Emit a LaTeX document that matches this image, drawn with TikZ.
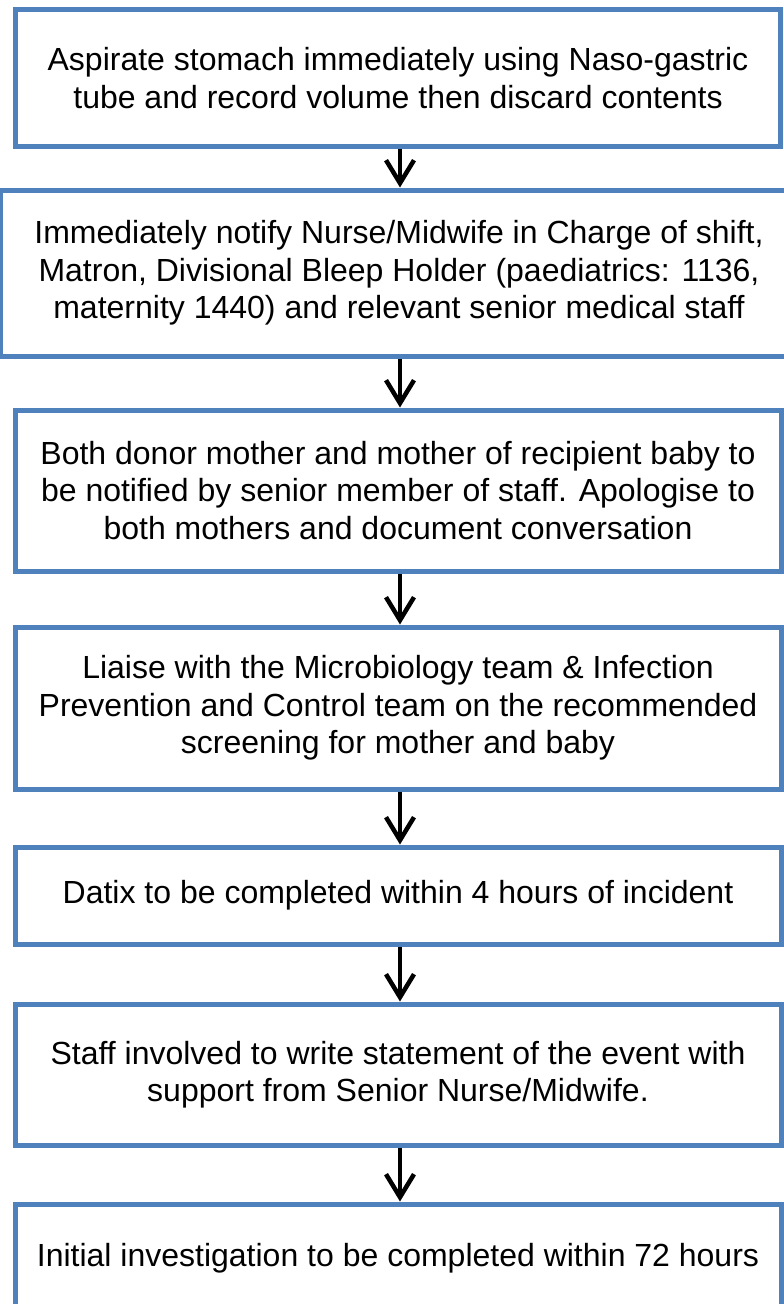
\documentclass[tikz,border=0pt]{standalone}
\usepackage{fontspec}
\setmainfont{Liberation Sans}
\usetikzlibrary{arrows.meta}
\definecolor{boxblue}{HTML}{4F81BD}

\begin{document}
\begin{tikzpicture}[x=1pt, y=-1pt,
    box/.style={draw=boxblue, line width=5pt, rectangle, align=center, inner sep=0pt, font=\fontsize{32}{37.5}\selectfont},
    arr/.style={draw=black, line width=4.5pt, -{Straight Barb[length=23pt, width=28pt]}}]
        
        \useasboundingbox (0,0) rectangle (784,1304);
        
        \node[box, minimum width=765, minimum height=137] (s1) at (398,78) {Aspirate stomach immediately using Naso-gastric\\tube and record volume then discard contents};
        \node[box, minimum width=798, minimum height=166] (s2) at (399,273) {Immediately notify Nurse/Midwife in Charge of shift,\\Matron, Divisional Bleep Holder (paediatrics: 1136,\\maternity 1440) and relevant senior medical staff};
        \node[box, minimum width=766, minimum height=161] (s3) at (398,490.5) {Both donor mother and mother of recipient baby to\\be notified by senior member of staff. Apologise to\\both mothers and document conversation};
        \node[box, minimum width=766, minimum height=162] (s4) at (398,708) {Liaise with the Microbiology team \& Infection\\Prevention and Control team on the recommended\\screening for mother and baby};
        \node[box, minimum width=766, minimum height=97] (s5) at (398,895.5) {Datix to be completed within 4 hours of incident};
        \node[box, minimum width=766, minimum height=141] (s6) at (398,1074.5) {Staff involved to write statement of the event with\\support from Senior Nurse/Midwife.};
        \node[box, minimum width=766, minimum height=108] (s7) at (398,1258) {Initial investigation to be completed within 72 hours};
        
        \draw[arr] (s1.south -| 400,0) -- (s2.north -| 400,0);
        \draw[arr] (s2.south -| 400,0) -- (s3.north -| 400,0);
        \draw[arr] (s3.south -| 400,0) -- (s4.north -| 400,0);
        \draw[arr] (s4.south -| 400,0) -- (s5.north -| 400,0);
        \draw[arr] (s5.south -| 400,0) -- (s6.north -| 400,0);
        \draw[arr] (s6.south -| 400,0) -- (s7.north -| 400,0);
        
\end{tikzpicture}
\end{document}
